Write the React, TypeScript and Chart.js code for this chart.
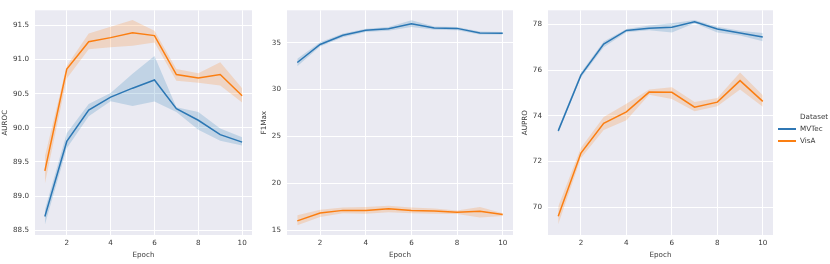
import React, { useEffect, useRef } from "react";
import { Chart, registerables } from "chart.js";
Chart.register(...registerables);

const epochs = [1, 2, 3, 4, 5, 6, 7, 8, 9, 10];
const xTicks = [2, 4, 6, 8, 10];

// AUROC
const aurocMVTec = [88.70, 89.80, 90.26, 90.45, 90.58, 90.70, 90.28, 90.11, 89.90, 89.79];
const aurocMVTecLow = [88.58, 89.70, 90.17, 90.39, 90.32, 90.385, 90.23, 89.97, 89.81, 89.74];
const aurocMVTecHigh = [88.80, 89.92, 90.35, 90.51, 90.79, 91.05, 90.30, 90.23, 89.99, 89.86];
const aurocVisA = [89.37, 90.86, 91.26, 91.32, 91.39, 91.35, 90.78, 90.73, 90.78, 90.47];
const aurocVisALow = [89.18, 90.72, 91.15, 91.18, 91.20, 91.25, 90.69, 90.66, 90.62, 90.37];
const aurocVisAHigh = [89.58, 90.91, 91.38, 91.48, 91.58, 91.42, 90.86, 90.80, 90.96, 90.58];
const aurocTicks = [88.5, 89.0, 89.5, 90.0, 90.5, 91.0, 91.5];

// F1Max
const f1MVTec = [32.9, 34.82, 35.8, 36.33, 36.5, 37.03, 36.58, 36.54, 36.05, 36.02];
const f1MVTecLow = [32.5, 34.6, 35.6, 36.15, 36.3, 36.7, 36.4, 36.35, 35.9, 35.9];
const f1MVTecHigh = [33.3, 35.05, 36.0, 36.5, 36.7, 37.4, 36.75, 36.7, 36.2, 36.15];
const f1VisA = [15.98, 16.82, 17.1, 17.1, 17.28, 17.1, 17.03, 16.9, 17.0, 16.65];
const f1VisALow = [15.5, 16.4, 16.8, 16.75, 16.9, 16.8, 16.75, 16.7, 16.33, 16.5];
const f1VisAHigh = [16.58, 17.17, 17.4, 17.45, 17.6, 17.4, 17.3, 17.1, 17.46, 16.8];
const f1Ticks = [15, 20, 25, 30, 35];

// AUPRO
const auproMVTec = [73.34, 75.78, 77.14, 77.74, 77.84, 77.88, 78.12, 77.8, 77.63, 77.45];
const auproMVTecLow = [73.25, 75.68, 77.0, 77.66, 77.75, 77.65, 78.05, 77.65, 77.52, 77.26];
const auproMVTecHigh = [73.45, 75.9, 77.25, 77.8, 77.95, 78.05, 78.2, 77.9, 77.72, 77.63];
const auproVisA = [69.6, 72.37, 73.67, 74.17, 75.04, 75.03, 74.38, 74.6, 75.54, 74.63];
const auproVisALow = [69.25, 72.15, 73.38, 73.81, 74.92, 74.74, 74.2, 74.42, 75.15, 74.4];
const auproVisAHigh = [70.03, 72.6, 73.95, 74.53, 75.15, 75.25, 74.6, 74.78, 75.9, 74.9];
const auproTicks = [70, 72, 74, 76, 78];

const seriesNames = ["MVTec", "VisA"];
const BLUE = "#2f77b4";
const ORANGE = "#fb7f12";
const BLUE_BAND = "rgba(31,119,180,0.2)";
const ORANGE_BAND = "rgba(255,127,14,0.2)";
const TEXT = "#3a3a3a";
const FONT = { family: "DejaVu Sans", size: 7.2 };

const pts = (ys: number[]) => epochs.map((x, i) => ({ x, y: ys[i] }));

const bgPlugin = {
  id: "bg",
  beforeDraw(chart: any) {
    const { ctx, chartArea } = chart;
    ctx.save();
    ctx.fillStyle = "#eaeaf2";
    ctx.fillRect(chartArea.left, chartArea.top, chartArea.width, chartArea.height);
    ctx.restore();
  },
};

type PanelProps = {
  left: number;
  width: number;
  yWidth: number;
  rightPad: number;
  titlePad: number;
  title: string;
  yMin: number;
  yMax: number;
  yTicks: number[];
  decimals: number;
  mv: number[];
  mvLow: number[];
  mvHigh: number[];
  va: number[];
  vaLow: number[];
  vaHigh: number[];
};

function Panel(p: PanelProps) {
  const ref = useRef<HTMLCanvasElement>(null);
  useEffect(() => {
    const band = (d: number[], color: string, fill: any) => ({
      data: pts(d),
      borderWidth: 0,
      borderColor: "rgba(0,0,0,0)",
      backgroundColor: color,
      pointRadius: 0,
      fill,
      tension: 0,
    });
    const line = (d: number[], color: string, label: string) => ({
      label,
      data: pts(d),
      borderWidth: 1.5,
      borderColor: color,
      backgroundColor: color,
      pointRadius: 0,
      fill: false,
      tension: 0,
    });
    const chart = new Chart(ref.current as HTMLCanvasElement, {
      type: "line",
      data: {
        datasets: [
          band(p.mvHigh, BLUE_BAND, "+1"),
          band(p.mvLow, BLUE_BAND, false),
          line(p.mv, BLUE, seriesNames[0]),
          band(p.vaHigh, ORANGE_BAND, "+1"),
          band(p.vaLow, ORANGE_BAND, false),
          line(p.va, ORANGE, seriesNames[1]),
        ] as any,
      },
      options: {
        animation: false,
        responsive: false,
        devicePixelRatio: 1,
        layout: { padding: { top: 7, right: p.rightPad, bottom: 0, left: 0 } },
        plugins: { legend: { display: false }, tooltip: { enabled: false } },
        scales: {
          x: {
            type: "linear",
            min: 0.55,
            max: 10.45,
            afterBuildTicks: (s: any) => {
              s.ticks = xTicks.map((v) => ({ value: v }));
            },
            afterFit: (s: any) => {
              s.height = 29;
            },
            grid: { color: "#ffffff", lineWidth: 1, drawTicks: false },
            border: { display: false },
            ticks: { color: TEXT, font: FONT, padding: 4, maxRotation: 0, callback: (v: any) => String(v) },
            title: { display: true, text: "Epoch", color: TEXT, font: FONT, padding: { top: 0, bottom: 5 } },
          },
          y: {
            type: "linear",
            min: p.yMin,
            max: p.yMax,
            afterBuildTicks: (s: any) => {
              s.ticks = p.yTicks.map((v) => ({ value: v }));
            },
            afterFit: (s: any) => {
              s.width = p.yWidth;
            },
            grid: { color: "#ffffff", lineWidth: 1, drawTicks: false },
            border: { display: false },
            ticks: { color: TEXT, font: FONT, padding: 6, callback: (v: any) => Number(v).toFixed(p.decimals) },
            title: { display: true, text: p.title, color: TEXT, font: FONT, padding: { top: p.titlePad, bottom: 0 } },
          },
        },
      } as any,
      plugins: [bgPlugin],
    });
    return () => chart.destroy();
  }, []);
  return (
    <canvas
      ref={ref}
      width={p.width}
      height={264}
      style={{ position: "absolute", left: p.left, top: 0, width: p.width, height: 264 }}
    />
  );
}

function LegendRow({ color, label }: { color: string; label: string }) {
  return (
    <div style={{ display: "flex", alignItems: "center", height: 12 }}>
      <div style={{ width: 18, height: 1.5, background: color, marginRight: 4, flex: "none" }} />
      <div>{label}</div>
    </div>
  );
}

export default function App() {
  return (
    <div style={{ position: "absolute", left: 0, top: 0, width: 830, height: 264, background: "#fff", overflow: "hidden" }}>
      <Panel left={0} width={260} yWidth={35} rightPad={8} titlePad={1.2} title="AUROC" yMin={88.43} yMax={91.72}
        yTicks={aurocTicks} decimals={1}
        mv={aurocMVTec} mvLow={aurocMVTecLow} mvHigh={aurocMVTecHigh}
        va={aurocVisA} vaLow={aurocVisALow} vaHigh={aurocVisAHigh} />
      <Panel left={258} width={262} yWidth={29} rightPad={7} titlePad={2.2} title="F1Max" yMin={14.47} yMax={38.47}
        yTicks={f1Ticks} decimals={0}
        mv={f1MVTec} mvLow={f1MVTecLow} mvHigh={f1MVTecHigh}
        va={f1VisA} vaLow={f1VisALow} vaHigh={f1VisAHigh} />
      <Panel left={516} width={264} yWidth={32} rightPad={7} titlePad={4.7} title="AUPRO" yMin={68.78} yMax={78.62}
        yTicks={auproTicks} decimals={0}
        mv={auproMVTec} mvLow={auproMVTecLow} mvHigh={auproMVTecHigh}
        va={auproVisA} vaLow={auproVisALow} vaHigh={auproVisAHigh} />
      <div style={{ position: "absolute", left: 778, top: 111, width: 52, fontFamily: "DejaVu Sans", fontSize: 7.2, color: TEXT, lineHeight: "12px" }}>
        <div style={{ paddingLeft: 22, height: 12 }}>Dataset</div>
        <LegendRow color={BLUE} label={seriesNames[0]} />
        <LegendRow color={ORANGE} label={seriesNames[1]} />
      </div>
    </div>
  );
}
